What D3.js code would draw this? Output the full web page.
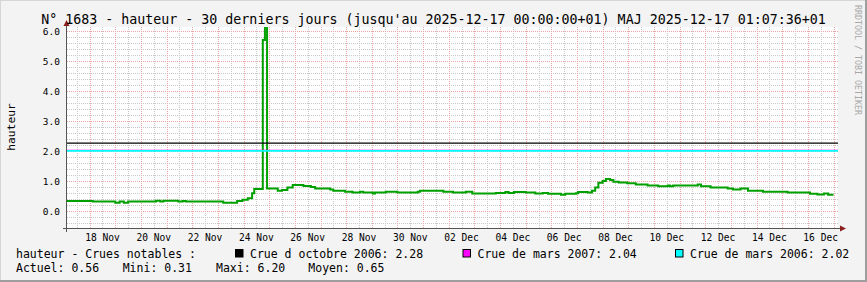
<!DOCTYPE html>
<html>
<head>
<meta charset="utf-8">
<script src="https://cdn.jsdelivr.net/npm/d3@7"></script>
<style>
body { margin: 0; background: #f3f3f3; }
text { font-family: "DejaVu Sans Mono", monospace; }
</style>
</head>
<body>
<svg id="chart" width="867" height="282"></svg>
<script>
// hauteur relevée (changements de palier)
var times = [
    "2025-11-17 01:00", "2025-11-18 03:00", "2025-11-19 00:00", "2025-11-19 04:00", "2025-11-19 08:00",
    "2025-11-19 12:00", "2025-11-20 14:00", "2025-11-20 18:00", "2025-11-20 21:00", "2025-11-21 11:00",
    "2025-11-21 15:00", "2025-11-21 18:00", "2025-11-23 05:00", "2025-11-23 18:00", "2025-11-23 23:00",
    "2025-11-24 04:00", "2025-11-24 08:00", "2025-11-24 10:00", "2025-11-24 18:00", "2025-11-24 20:00",
    "2025-11-24 22:00", "2025-11-25 08:00", "2025-11-25 12:00", "2025-11-25 17:00", "2025-11-25 22:00",
    "2025-11-26 08:00", "2025-11-26 15:00", "2025-11-26 19:00", "2025-11-27 09:00", "2025-11-27 12:00",
    "2025-11-27 23:00", "2025-11-28 06:00", "2025-11-28 13:00", "2025-11-28 16:00", "2025-11-29 01:00",
    "2025-11-29 03:00", "2025-11-29 13:00", "2025-11-30 00:00", "2025-11-30 19:00", "2025-11-30 21:00",
    "2025-12-01 19:00", "2025-12-02 04:00", "2025-12-02 16:00", "2025-12-02 22:00", "2025-12-03 20:00",
    "2025-12-04 05:00", "2025-12-04 08:00", "2025-12-04 13:00", "2025-12-05 00:00", "2025-12-05 09:00",
    "2025-12-05 16:00", "2025-12-05 21:00", "2025-12-06 09:00", "2025-12-06 13:00", "2025-12-06 23:00",
    "2025-12-07 01:00", "2025-12-07 10:00", "2025-12-07 14:00", "2025-12-07 17:00", "2025-12-07 20:00",
    "2025-12-08 00:00", "2025-12-08 03:00", "2025-12-08 07:00", "2025-12-08 10:00", "2025-12-08 15:00",
    "2025-12-08 23:00", "2025-12-09 07:00", "2025-12-09 18:00", "2025-12-10 04:00", "2025-12-10 13:00",
    "2025-12-10 15:00", "2025-12-10 18:00", "2025-12-11 17:00", "2025-12-11 20:00", "2025-12-12 05:00",
    "2025-12-12 21:00", "2025-12-13 02:00", "2025-12-13 09:00", "2025-12-13 16:00", "2025-12-14 06:00",
    "2025-12-15 05:00", "2025-12-16 02:00", "2025-12-16 09:00", "2025-12-16 15:00", "2025-12-16 19:00",
    "2025-12-17 00:00"
];
var hauteur = [
    0.35, 0.33, 0.29, 0.33, 0.29,
    0.33, 0.36, 0.33, 0.36, 0.33,
    0.35, 0.33, 0.29, 0.35, 0.39,
    0.44, 0.61, 0.75, 5.72, 6.20,
    0.77, 0.69, 0.72, 0.80, 0.88,
    0.85, 0.82, 0.77, 0.73, 0.69,
    0.66, 0.63, 0.66, 0.63, 0.60,
    0.63, 0.66, 0.63, 0.66, 0.69,
    0.66, 0.63, 0.66, 0.60, 0.62,
    0.65, 0.62, 0.65, 0.63, 0.60,
    0.62, 0.59, 0.56, 0.59, 0.61,
    0.65, 0.63, 0.69, 0.80, 0.96,
    1.02, 1.08, 1.05, 0.99, 0.97,
    0.94, 0.90, 0.87, 0.84, 0.87,
    0.84, 0.87, 0.90, 0.84, 0.80,
    0.77, 0.73, 0.77, 0.69, 0.66,
    0.63, 0.59, 0.57, 0.60, 0.56,
    0.56
];

var crues = ["Crue d octobre 2006", "Crue de mars 2007", "Crue de mars 2006"];
var cruesValeurs = [2.28, 2.04, 2.02];

var statsNoms = ["Actuel", "Mini", "Maxi", "Moyen"];
var statsValeurs = [0.56, 0.31, 6.20, 0.65];

var yTicks = [0, 1, 2, 3, 4, 5, 6];
var xTickDates = ["2025-11-18", "2025-11-20", "2025-11-22", "2025-11-24", "2025-11-26", "2025-11-28", "2025-11-30",
    "2025-12-02", "2025-12-04", "2025-12-06", "2025-12-08", "2025-12-10", "2025-12-12", "2025-12-14", "2025-12-16"];

var titre = "N° 1683 - hauteur - 30 derniers jours (jusqu'au 2025-12-17 00:00:00+01) MAJ 2025-12-17 01:07:36+01";

var couleursCrues = ["#000000", "#ff00ff", "#00ffff"];

var parseTime = d3.timeParse("%Y-%m-%d %H:%M");
var parseDay = d3.timeParse("%Y-%m-%d");
var formatDay = d3.timeFormat("%d %b");

var data = times.map(function (t, i) {
    return {date: parseTime(t), value: hauteur[i]};
});

var plot = {left: 67, right: 838, top: 27, bottom: 228};

var svg = d3.select("#chart");

// cadre
svg.append("rect").attr("x", 0).attr("y", 0).attr("width", 867).attr("height", 282).attr("fill", "#f3f3f3");
svg.append("path").attr("d", "M0,281 V0 H866").attr("fill", "none").attr("stroke", "#d6d6d6").attr("stroke-width", 2);
svg.append("path").attr("d", "M866,0 V281 H0").attr("fill", "none").attr("stroke", "#9e9e9e").attr("stroke-width", 2);

var x = d3.scaleTime()
    .domain([parseDay("2025-11-17"), parseDay("2025-12-17")])
    .range([64, 833.5]);

var y = d3.scaleLinear()
    .domain([0, 6])
    .range([211.5, 31.5]);

svg.append("rect")
    .attr("x", plot.left).attr("y", plot.top)
    .attr("width", plot.right - plot.left).attr("height", plot.bottom - plot.top)
    .attr("fill", "#ffffff");

var grid = svg.append("g").attr("shape-rendering", "crispEdges");

// grille horizontale mineure / majeure
var yMinor = d3.range(-0.4, 6.01, 0.2).filter(function (v) { return Math.abs(v - Math.round(v)) > 0.01; });
grid.selectAll(".hminor").data(yMinor).enter().append("line")
    .attr("x1", plot.left).attr("x2", plot.right)
    .attr("y1", function (d) { return Math.floor(y(d)) + 0.5; })
    .attr("y2", function (d) { return Math.floor(y(d)) + 0.5; })
    .attr("stroke", "#c8c8c8").attr("stroke-dasharray", "1,1");

var xMinor = d3.timeHour.every(12).range(parseDay("2025-11-17"), parseDay("2025-12-17"))
    .filter(function (d) { return d.getHours() === 12; });
grid.selectAll(".vminor").data(xMinor).enter().append("line")
    .attr("x1", function (d) { return Math.round(x(d)) + 0.5; })
    .attr("x2", function (d) { return Math.round(x(d)) + 0.5; })
    .attr("y1", plot.top).attr("y2", plot.bottom)
    .attr("stroke", "#c8c8c8").attr("stroke-dasharray", "1,1");

grid.selectAll(".hmajor").data(yTicks).enter().append("line")
    .attr("x1", plot.left).attr("x2", plot.right)
    .attr("y1", function (d) { return Math.floor(y(d)) + 0.5; })
    .attr("y2", function (d) { return Math.floor(y(d)) + 0.5; })
    .attr("stroke", "#eea4a4").attr("stroke-dasharray", "1,1");

var xMajor = d3.timeDay.range(parseDay("2025-11-18"), d3.timeDay.offset(parseDay("2025-12-17"), 1));
grid.selectAll(".vmajor").data(xMajor).enter().append("line")
    .attr("x1", function (d) { return Math.round(x(d)) + 0.5; })
    .attr("x2", function (d) { return Math.round(x(d)) + 0.5; })
    .attr("y1", plot.top).attr("y2", plot.bottom)
    .attr("stroke", "#eea4a4").attr("stroke-dasharray", "1,1");

// clip
svg.append("clipPath").attr("id", "clip").append("rect")
    .attr("x", plot.left).attr("y", plot.top)
    .attr("width", plot.right - plot.left).attr("height", plot.bottom - plot.top);

var g = svg.append("g").attr("clip-path", "url(#clip)");

var line = d3.line()
    .x(function (d) { return x(d.date); })
    .y(function (d) { return y(d.value); })
    .curve(d3.curveStepAfter);

g.append("path")
    .attr("d", line(data))
    .attr("fill", "none")
    .attr("stroke", "#00a000")
    .attr("stroke-width", 2);

// lignes des crues
g.selectAll(".crue").data(cruesValeurs).enter().append("line")
    .attr("x1", plot.left).attr("x2", plot.right)
    .attr("y1", function (d) { return y(d); })
    .attr("y2", function (d) { return y(d); })
    .attr("stroke", function (d, i) { return couleursCrues[i]; })
    .attr("stroke-width", function (d, i) { return i === 2 ? 1.6 : 1.1; });

// axes
svg.append("line").attr("x1", 66.5).attr("x2", 66.5).attr("y1", 25).attr("y2", 232)
    .attr("stroke", "#555555").attr("shape-rendering", "crispEdges");
svg.append("line").attr("x1", 63).attr("x2", 840).attr("y1", 228.5).attr("y2", 228.5)
    .attr("stroke", "#555555").attr("shape-rendering", "crispEdges");
svg.append("path").attr("d", "M63.5,26 L66.5,20 L69.5,26 Z").attr("fill", "#8b1f1f");
svg.append("path").attr("d", "M840,225.5 L846,228.5 L840,231.5 Z").attr("fill", "#8b1f1f");

svg.selectAll(".ylab").data(yTicks).enter().append("text")
    .attr("x", 60).attr("y", function (d) { return y(d) + 3.5; })
    .attr("text-anchor", "end").attr("font-size", "9.5px").attr("fill", "#000")
    .text(function (d) { return d3.format(".1f")(d); });

svg.selectAll(".xlab").data(xTickDates).enter().append("text")
    .attr("x", function (d) { return x(d3.timeHour.offset(parseDay(d), 12)); })
    .attr("y", 241)
    .attr("text-anchor", "middle").attr("font-size", "9.6px").attr("fill", "#000")
    .text(function (d) { return formatDay(parseDay(d)); });

// titres
svg.append("text").attr("x", 433.5).attr("y", 24).attr("text-anchor", "middle")
    .attr("font-size", "13.3px").attr("fill", "#000").text(titre);

svg.append("text").attr("transform", "translate(14.5,127) rotate(-90)").attr("text-anchor", "middle")
    .attr("font-size", "11.3px").attr("fill", "#000").text("hauteur");

svg.append("text").attr("transform", "translate(855,5) rotate(90)").attr("text-anchor", "start")
    .attr("font-size", "8.3px").attr("fill", "#a8a8a8").text("RRDTOOL / TOBI OETIKER");

// légende
svg.append("text").attr("x", 16).attr("y", 257.7).attr("font-size", "11.5px").attr("fill", "#000")
    .attr("xml:space", "preserve").text("hauteur - Crues notables :");

var legX = [235, 462.5, 675];
crues.forEach(function (c, i) {
    svg.append("rect").attr("x", legX[i] + 0.5).attr("y", 249.5).attr("width", 7.5).attr("height", 7.5)
        .attr("fill", couleursCrues[i]).attr("stroke", "#000").attr("stroke-width", 1);
    svg.append("text").attr("x", legX[i] + 15).attr("y", 257.7).attr("font-size", "11.5px").attr("fill", "#000")
        .text(c + ": " + d3.format(".2f")(cruesValeurs[i]));
});

var statsX = [16, 122.7, 216, 308.3];
statsNoms.forEach(function (s, i) {
    svg.append("text").attr("x", statsX[i]).attr("y", 271.7).attr("font-size", "11.5px").attr("fill", "#000")
        .text(s + ": " + d3.format(".2f")(statsValeurs[i]));
});
</script>
</body>
</html>
